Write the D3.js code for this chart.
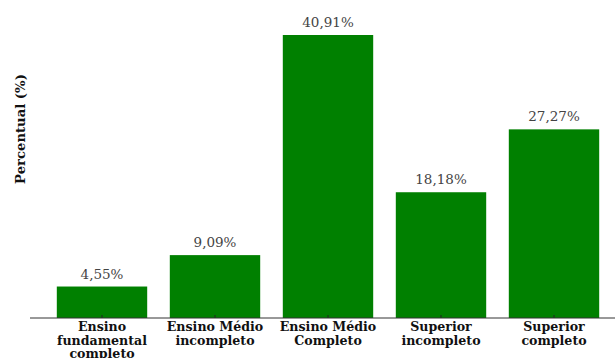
<!DOCTYPE html>
<html>
<head>
<meta charset="utf-8">
<script src="https://cdn.jsdelivr.net/npm/d3@7"></script>
<style>
  html, body { margin: 0; padding: 0; background: #fff; }
  svg { display: block; }
</style>
</head>
<body>
<svg id="chart" width="615" height="358"></svg>
<script>
// Escolaridade dos respondentes
const categories = [
  ["Ensino", "fundamental", "completo"],
  ["Ensino Médio", "incompleto"],
  ["Ensino Médio", "Completo"],
  ["Superior", "incompleto"],
  ["Superior", "completo"]
];
const values = [4.55, 9.09, 40.91, 18.18, 27.27];
const valueLabels = ["4,55%", "9,09%", "40,91%", "18,18%", "27,27%"];
const yLabel = "Percentual (%)";

const svg = d3.select("#chart");
const baseY = 318;
const font = "'DejaVu Serif', serif";

const x = d3.scaleBand()
  .domain(d3.range(values.length))
  .range([45.5, 610.5])
  .paddingInner(0.2)
  .paddingOuter(0.1);

const y = d3.scaleLinear()
  .domain([0, 40.91])
  .range([baseY, 35]);

// bars
svg.append("g").selectAll("rect")
  .data(values)
  .join("rect")
  .attr("x", (d, i) => x(i))
  .attr("width", x.bandwidth())
  .attr("y", d => y(d))
  .attr("height", d => baseY - y(d))
  .attr("fill", "#008000");

// value labels
svg.append("g").selectAll("text")
  .data(values)
  .join("text")
  .attr("x", (d, i) => x(i) + x.bandwidth() / 2)
  .attr("y", d => y(d) - 8)
  .attr("text-anchor", "middle")
  .attr("font-family", font)
  .attr("font-size", 13.5)
  .attr("fill", "#444")
  .text((d, i) => valueLabels[i]);

// baseline axis (ticks sit at band centres)
const axis = d3.axisBottom(x).tickSize(0).tickFormat("");
const gAxis = svg.append("g").attr("transform", `translate(0,${baseY})`).call(axis);
gAxis.select(".domain").remove();
gAxis.append("line")
  .attr("x1", 30).attr("x2", 615)
  .attr("stroke", "#333").attr("stroke-width", 1);
gAxis.selectAll(".tick").append("line")
  .attr("x1", 0).attr("x2", 0)
  .attr("y1", 0).attr("y2", -3)
  .attr("stroke", "#222");

// category labels
gAxis.selectAll(".tick").each(function(d, i) {
  const t = d3.select(this).append("text")
    .attr("x", 0)
    .attr("text-anchor", "middle")
    .attr("font-family", font)
    .attr("font-size", 12.6)
    .attr("font-weight", "bold")
    .attr("fill", "#111");
  categories[i].forEach((line, j) => {
    t.append("tspan")
      .attr("x", 0)
      .attr("y", 13 + j * 13.5)
      .text(line);
  });
});

// y axis title
svg.append("text")
  .attr("transform", "translate(24.5,129) rotate(-90)")
  .attr("text-anchor", "middle")
  .attr("font-family", font)
  .attr("font-size", 13.2)
  .attr("font-weight", "bold")
  .attr("fill", "#111")
  .text(yLabel);
</script>
</body>
</html>
